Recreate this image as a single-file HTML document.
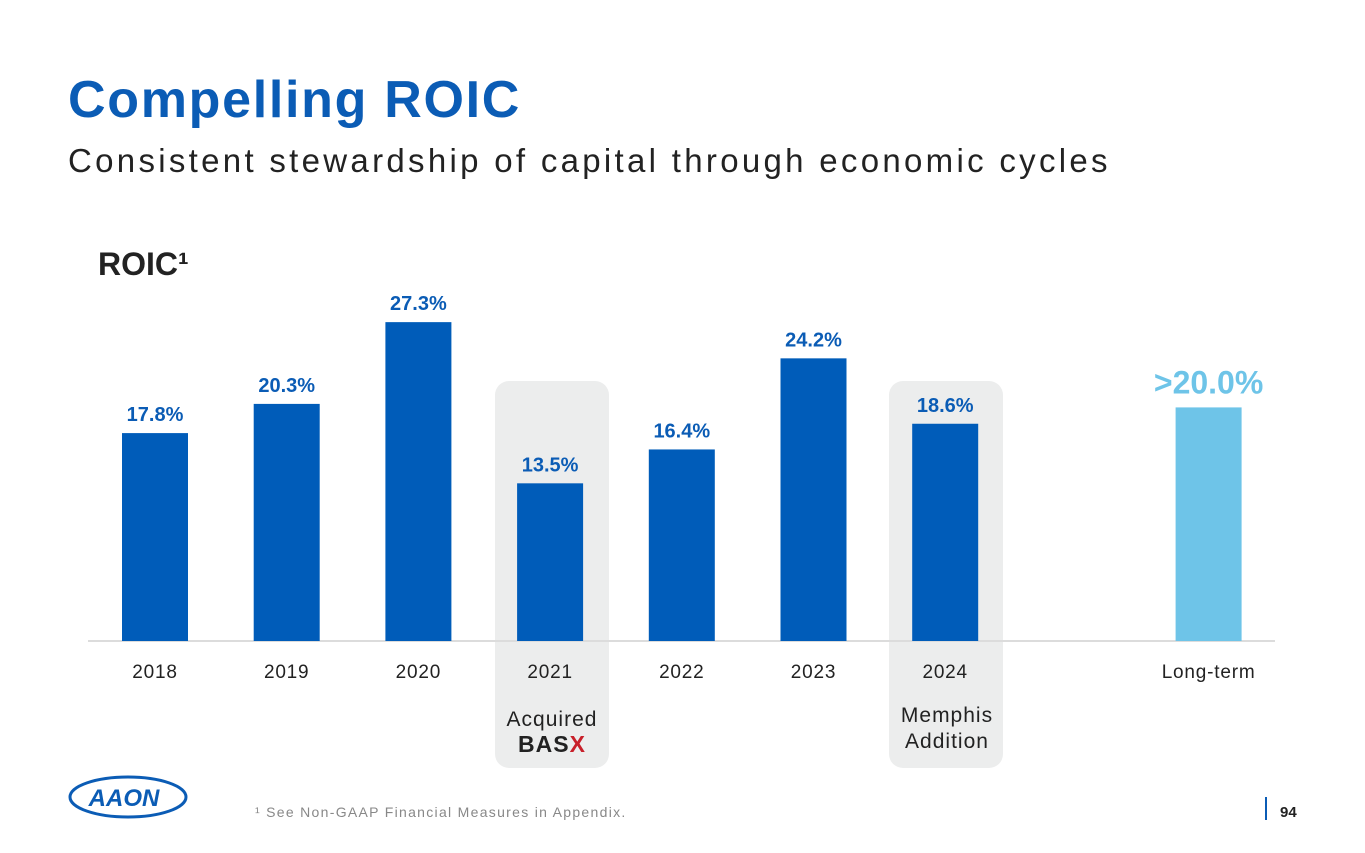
<!DOCTYPE html>
<html><head><meta charset="utf-8"><style>
body{margin:0;width:1365px;height:853px;background:#fff;overflow:hidden;font-family:"Liberation Sans",sans-serif;position:relative}
.t{position:absolute;white-space:nowrap}
</style></head><body>
<div class="t" style="left:68px;top:70px;font-size:52px;font-weight:bold;color:#0b5cb5;letter-spacing:1.7px">Compelling ROIC</div>
<div class="t" style="left:68px;top:142px;font-size:33px;color:#222;letter-spacing:3.3px">Consistent stewardship of capital through economic cycles</div>
<div class="t" style="left:98px;top:246px;font-size:32px;font-weight:bold;color:#222">ROIC¹</div>
<svg id="chart" width="1365" height="853" style="position:absolute;left:0;top:0">
<rect x="495" y="381" width="114" height="387" rx="14" fill="#eceded"/>
<rect x="889" y="381" width="114" height="387" rx="14" fill="#eceded"/>
<line x1="88" y1="641" x2="1275" y2="641" stroke="#dcdcdc" stroke-width="2"/>
<g id="bars"></g>
<text x="552" y="726" text-anchor="middle" font-size="21" fill="#222" letter-spacing="1">Acquired</text>
<text x="552" y="752" text-anchor="middle" font-size="23" font-weight="bold" fill="#222" letter-spacing="1">BAS<tspan fill="#c8202a">X</tspan></text>
<text x="947" y="722" text-anchor="middle" font-size="21" fill="#222" letter-spacing="1">Memphis</text>
<text x="947" y="748" text-anchor="middle" font-size="21" fill="#222" letter-spacing="1">Addition</text>
<g>
<ellipse cx="128" cy="797" rx="58" ry="20" fill="#fff" stroke="#0b5cb5" stroke-width="3"/>
<text x="124" y="806" text-anchor="middle" font-size="24" font-weight="bold" font-style="italic" fill="#0b5cb5">AAON</text>
</g>
<text x="255" y="817" font-size="14" fill="#888" letter-spacing="1.3">¹ See Non-GAAP Financial Measures in Appendix.</text>
<line x1="1266" y1="797" x2="1266" y2="820" stroke="#0b5cb5" stroke-width="2"/>
<text x="1280" y="817" font-size="15" font-weight="bold" fill="#222">94</text>
</svg>
<script>
const categories=["2018","2019","2020","2021","2022","2023","2024","Long-term"];
const values=[17.8,20.3,27.3,13.5,16.4,24.2,18.6,20.0];
const valueLabels=["17.8%","20.3%","27.3%","13.5%","16.4%","24.2%","18.6%",">20.0%"];
const slots=[0,1,2,3,4,5,6,8];
const base=641,scale=11.68;
function xc(i){return 155+slots[i]*131.7;}
function y(v){return base-v*scale;}
const g=document.getElementById('bars');const ns="http://www.w3.org/2000/svg";
categories.forEach((c,i)=>{
 const lt=i===7;
 const r=document.createElementNS(ns,'rect');
 r.setAttribute('x',xc(i)-33);r.setAttribute('y',y(values[i]));r.setAttribute('width',66);r.setAttribute('height',base-y(values[i]));
 r.setAttribute('fill',lt?'#6ec4e8':'#005cb9');
 
 
 g.appendChild(r);
 const t=document.createElementNS(ns,'text');
 t.setAttribute('x',xc(i));t.setAttribute('y',y(values[i])-(lt?14:12));t.setAttribute('text-anchor','middle');
 t.setAttribute('font-size',lt?32:20);t.setAttribute('font-weight','bold');t.setAttribute('fill',lt?'#6ec4e8':'#0b5cb5');
 t.textContent=valueLabels[i];
 
 
 g.appendChild(t);
 const l=document.createElementNS(ns,'text');
 l.setAttribute('x',xc(i));l.setAttribute('y',678);l.setAttribute('text-anchor','middle');l.setAttribute('font-size',19);l.setAttribute('fill','#222');l.setAttribute('letter-spacing','0.8');
 l.textContent=c;
 
 
 g.appendChild(l);
});
</script>
</body></html>
